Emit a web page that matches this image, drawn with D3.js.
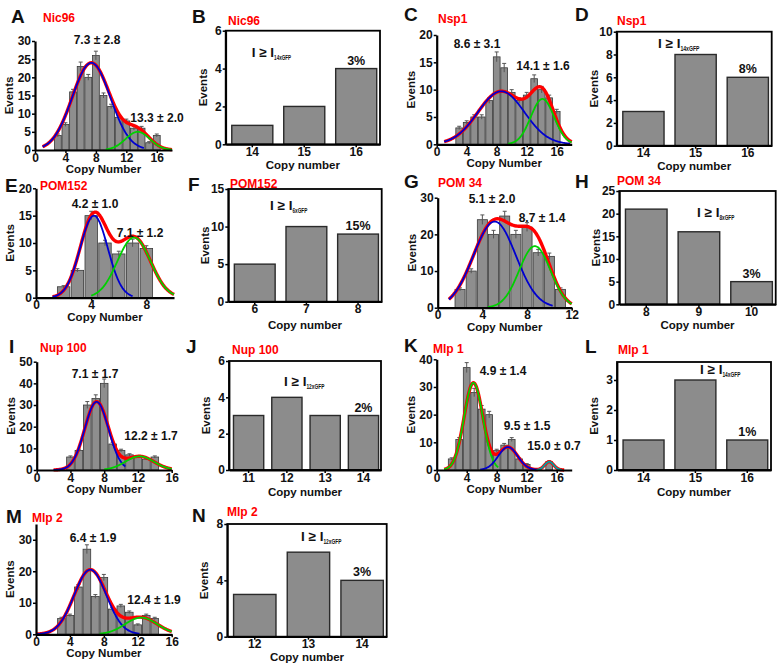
<!DOCTYPE html>
<html><head><meta charset="utf-8">
<script src="https://cdn.jsdelivr.net/npm/d3@7"></script>
<style>
body{margin:0;background:#fff;}
svg text{font-family:"Liberation Sans",Arial,sans-serif;font-weight:bold;fill:#111;}
</style></head><body>
<svg id="c" width="781" height="669"></svg>
<script>
// ---------- DATA ----------
// Histograms (bins = copy number, counts = events)
const binsA=[3,4,5,6,7,8,9,10,11,12,13,14,15,16];
const countsA=[4,7,16,23,20,26,15,12,9,8,6,6,2,4];
const errsA=[0.4,0.5,0.7,1.2,0.8,1.2,0.7,0.6,0.5,0.5,0.5,0.5,0.3,0.4];
const meansA=[7.4,13.5], sdsA=[2.5,1.6], ampsA=[24,5];
const rangesA=[[1,14.3],[9.3,18]], sumRangeA=[1,18];
const labelsA=["7.3 \u00b1 2.8","13.3 \u00b1 2.0"];

const binsC=[3,4,5,6,7,8,9,10,11,12,13,14,15,16];
const countsC=[3,4,5,5,8,16,14,9.5,8,9,12,10,8.5,6];
const errsC=[0.3,0.3,0.4,0.4,0.5,0.9,0.8,0.5,0.5,0.5,0.7,0.6,0.5,0.4];
const meansC=[8.6,14.1], sdsC=[3.1,1.55], ampsC=[9.7,8.3];
const rangesC=[[1,17.8],[9.5,18]], sumRangeC=[1,18];
const labelsC=["8.6 \u00b1 3.1","14.1 \u00b1 1.6"];

const binsE=[2,3,4,5,6,7,8];
const countsE=[2,5,15,10,8,10,9];
const errsE=[0.2,0.3,0.8,0.5,0.5,0.7,0.5];
const meansE=[4.2,7.1], sdsE=[1.0,1.2], ampsE=[15,11];
const rangesE=[[1.2,7],[4,10]], sumRangeE=[1.2,10];
const labelsE=["4.2 \u00b1 1.0","7.1 \u00b1 1.2"];

const binsG=[2,3,4,5,6,7,8,9,10,11];
const countsG=[5,10,24,20,25,20,22,15,14,5];
const errsG=[0.4,0.6,1.3,1.1,1.3,1.1,1.2,0.9,0.9,0.4];
const meansG=[5.1,8.7], sdsG=[1.9,1.4], ampsG=[23.5,16.8];
const rangesG=[[1,10.3],[4.5,12]], sumRangeG=[1,12];
const labelsG=["5.1 \u00b1 2.0","8.7 \u00b1 1.4"];

const binsI=[4,5,6,7,8,9,10,11,12,13,14];
const countsI=[6,9,30,33,40,12,9,7,6,5,6];
const errsI=[0.5,0.6,1.6,1.7,2.0,0.8,0.6,0.5,0.5,0.4,0.5];
const meansI=[7.1,12.2], sdsI=[1.4,1.7], ampsI=[31.5,6.3];
const rangesI=[[2,10.5],[8,16]], sumRangeI=[2,16];
const labelsI=["7.1 \u00b1 1.7","12.2 \u00b1 1.7"];

const binsK=[2,3,4,5,6,7,8,9,10,11,12,15];
const countsK=[4,11,37,28,22,20,7,9,11,4,2,3];
const errsK=[0.4,0.7,1.8,1.5,1.3,1.2,0.5,0.6,0.7,0.4,0.3,0.3];
const meansK=[4.9,9.5,15.0], sdsK=[1.25,1.3,0.6], ampsK=[31.5,8.3,3];
const rangesK=[[1,8.2],[5.8,13.5],[13.3,16.7]], sumRangeK=[1,17];
const labelsK=["4.9 \u00b1 1.4","9.5 \u00b1 1.5","15.0 \u00b1 0.7"];

const binsM=[3,4,5,6,7,8,9,10,11,12,13,14];
const countsM=[5,6,15,27,12,18,8,9,7,3,6,5];
const errsM=[0.4,0.4,0.8,1.4,0.6,1.0,0.5,0.5,0.4,0.3,0.4,0.4];
const meansM=[6.4,12.4], sdsM=[1.9,1.9], ampsM=[20.5,5.3];
const rangesM=[[0,12.2],[7.5,16]], sumRangeM=[0,16];
const labelsM=["6.4 \u00b1 1.9","12.4 \u00b1 1.9"];

// Bar charts (copy number category vs events)
const catsB=["14","15","16"], valsB=[1,2,4];
const catsD=["14","15","16"], valsD=[3,8,6];
const catsF=["6","7","8"], valsF=[5,10,9];
const catsH=["8","9","10"], valsH=[21,16,5];
const catsJ=["11","12","13","14"], valsJ=[3,4,3,3];
const catsL=["14","15","16"], valsL=[1,3,1];
const catsN=["12","13","14"], valsN=[3,6,4];

// tick labels
const ticksA_x=[0,4,8,12,16], ticksA_y=[0,5,10,15,20,25,30];
const ticksC_x=[0,4,8,12,16], ticksC_y=[0,5,10,15,20];
const ticksE_x=[0,4,8], ticksE_y=[0,5,10,15,20];
const ticksG_x=[0,4,8,12], ticksG_y=[0,10,20,30];
const ticksI_x=[0,4,8,12,16], ticksI_y=[0,10,20,30,40,50];
const ticksK_x=[0,4,8,12,16], ticksK_y=[0,10,20,30,40];
const ticksM_x=[0,4,8,12,16], ticksM_y=[0,10,20,30];
const ticksB_y=[0,2,4,6], ticksD_y=[0,2,4,6,8,10], ticksF_y=[0,5,10,15];
const ticksH_y=[0,5,10,15,20,25], ticksJ_y=[0,2,4,6], ticksL_y=[0,1,2,3], ticksN_y=[0,4,8];

// ---------- DRAWING ----------
const svg=d3.select("#c");
const RED="#ff0000", BLUE="#0000d0", GREEN="#00d000", TEAL="#00a0a0";
const fmt=d3.format("d");

function gauss(a,m,s){return x=>a*Math.exp(-((x-m)*(x-m))/(2*s*s));}

function styleAxis(g,w){
  g.select(".domain").attr("stroke","#000").attr("stroke-width",w);
  g.selectAll(".tick line").attr("stroke","#000").attr("stroke-width",1.5);
  g.selectAll(".tick text").style("font-size","12px").style("font-weight","bold").attr("fill","#111");
}

function hist(c){
  const g=svg.append("g");
  const x=d3.scaleLinear().domain(c.xDom).range([c.x0,c.x1]);
  const y=d3.scaleLinear().domain(c.yDom).range([c.y0,c.y1]);
  g.selectAll("rect.b").data(c.bins).enter().append("rect")
    .attr("x",b=>x(b-0.45)).attr("width",b=>x(b+0.45)-x(b-0.45))
    .attr("y",(b,i)=>y(c.counts[i])).attr("height",(b,i)=>y(0)-y(c.counts[i]))
    .attr("fill","#8e8e8e").attr("stroke","#3a3a3a").attr("stroke-width",0.8);
  c.bins.forEach((b,i)=>{
    const top=y(c.counts[i]+c.errs[i]);
    g.append("line").attr("x1",x(b)).attr("x2",x(b)).attr("y1",y(c.counts[i]-c.errs[i])).attr("y2",top).attr("stroke","#555").attr("stroke-width",1);
    g.append("line").attr("x1",x(b)-2).attr("x2",x(b)+2).attr("y1",top).attr("y2",top).attr("stroke","#555").attr("stroke-width",1);
  });
  const fns=c.means.map((m,i)=>gauss(c.amps[i],m,c.sds[i]));
  const line=d3.line().x(d=>x(d[0])).y(d=>y(d[1])).curve(d3.curveBasis);
  const pts=(r,f)=>{const a=d3.range(r[0],r[1],0.05).map(v=>[v,f(v)]);a.push([r[1],f(r[1])]);return a;};
  const sum=v=>d3.sum(fns,f=>f(v));
  g.append("path").attr("d",line(pts(c.sumRange,sum))).attr("fill","none").attr("stroke",RED).attr("stroke-width",3.4);
  fns.forEach((f,i)=>{
    g.append("path").attr("d",line(pts(c.ranges[i],f))).attr("fill","none").attr("stroke",c.colors[i]).attr("stroke-width",1.8);
  });
  const ax=g.append("g").attr("transform",`translate(0,${c.y0})`)
    .call(d3.axisBottom(x).tickValues(c.xTicks).tickFormat(fmt).tickSize(3).tickSizeOuter(0).tickPadding(0));
  styleAxis(ax,2.2);
  const ay=g.append("g").attr("transform",`translate(${c.x0},0)`)
    .call(d3.axisLeft(y).tickValues(c.yTicks).tickFormat(fmt).tickSize(3).tickSizeOuter(0).tickPadding(1));
  styleAxis(ay,2.2);
  g.append("text").attr("x",(c.x0+c.x1)/2).attr("y",c.y0+23).attr("text-anchor","middle").style("font-size","11.5px").text("Copy Number");
  g.append("text").attr("transform",`translate(${c.x0-26},${(c.y0+c.y1)/2}) rotate(-90)`).attr("text-anchor","middle").attr("dy","0.35em").style("font-size","11.5px").text("Events");
  g.append("text").attr("x",c.tx).attr("y",c.ty).style("font-size","12px").style("fill",RED).text(c.title);
  c.labels.forEach((t,i)=>{
    g.append("text").attr("x",c.lp[i][0]).attr("y",c.lp[i][1]).attr("text-anchor","middle").style("font-size","12px").text(t);
  });
  g.append("text").attr("x",c.letter[1]).attr("y",c.letter[2]).style("font-size","19px").text(c.letter[0]);
}

function bars(c){
  const g=svg.append("g");
  const x=d3.scaleBand().domain(c.cats).range([c.x0,c.x1]).paddingInner(0.21).paddingOuter(0.09).align(0.65);
  const y=d3.scaleLinear().domain(c.yDom).range([c.y0,c.y1]);
  g.selectAll("rect.b").data(c.vals).enter().append("rect")
    .attr("x",(v,i)=>x(c.cats[i])).attr("width",x.bandwidth())
    .attr("y",v=>y(v)).attr("height",v=>y(0)-y(v))
    .attr("fill","#8c8c8c").attr("stroke","#2a2a2a").attr("stroke-width",1.4);
  g.append("rect").attr("x",c.x0).attr("y",c.y1).attr("width",c.x1-c.x0).attr("height",c.y0-c.y1)
    .attr("fill","none").attr("stroke","#000").attr("stroke-width",1.8);
  const ax=g.append("g").attr("transform",`translate(0,${c.y0})`)
    .call(d3.axisBottom(x).tickSize(3).tickSizeOuter(0).tickPadding(0));
  styleAxis(ax,1.8);
  const ay=g.append("g").attr("transform",`translate(${c.x0},0)`)
    .call(d3.axisLeft(y).tickValues(c.yTicks).tickFormat(fmt).tickSize(3).tickSizeOuter(0).tickPadding(1));
  styleAxis(ay,1.8);
  g.append("text").attr("x",(c.x0+c.x1)/2).attr("y",c.xlY).attr("text-anchor","middle").style("font-size","11.5px").text("Copy number");
  g.append("text").attr("transform",`translate(${c.x0-23},${(c.y0+c.y1)/2}) rotate(-90)`).attr("text-anchor","middle").attr("dy","0.35em").style("font-size","11.5px").text("Events");
  g.append("text").attr("x",c.tx).attr("y",c.ty).style("font-size","12px").style("fill",RED).text(c.title);
  const last=c.cats.length-1;
  g.append("text").attr("x",x(c.cats[last])+x.bandwidth()/2).attr("y",y(c.vals[last])-4).attr("text-anchor","middle").style("font-size","12.5px").text(c.pct);
  const t=g.append("text").attr("x",c.ix).attr("y",c.iy).style("font-size","13.5px");
  t.append("tspan").text("I \u2265 I");
  t.append("tspan").attr("dy",3).style("font-size","8px").attr("textLength",c.subLen).attr("lengthAdjust","spacingAndGlyphs").text(c.sub);
  g.append("text").attr("x",c.letter[1]).attr("y",c.letter[2]).style("font-size","19px").text(c.letter[0]);
}

hist({bins:binsA,counts:countsA,errs:errsA,means:meansA,sds:sdsA,amps:ampsA,ranges:rangesA,sumRange:sumRangeA,
  labels:labelsA,lp:[[97,44],[157,122]],xDom:[0,18],yDom:[0,30],xTicks:ticksA_x,yTicks:ticksA_y,
  x0:35,x1:172,y0:150,y1:41,colors:[BLUE,GREEN],title:"Nic96",tx:43,ty:22,letter:["A",11,23]});
hist({bins:binsC,counts:countsC,errs:errsC,means:meansC,sds:sdsC,amps:ampsC,ranges:rangesC,sumRange:sumRangeC,
  labels:labelsC,lp:[[477,48],[543,70]],xDom:[0,18],yDom:[0,20],xTicks:ticksC_x,yTicks:ticksC_y,
  x0:436.7,x1:571.7,y0:144.3,y1:35,colors:[BLUE,GREEN],title:"Nsp1",tx:438,ty:23,letter:["C",404,21]});
hist({bins:binsE,counts:countsE,errs:errsE,means:meansE,sds:sdsE,amps:ampsE,ranges:rangesE,sumRange:sumRangeE,
  labels:labelsE,lp:[[95,208],[140,237]],xDom:[0,10],yDom:[0,20],xTicks:ticksE_x,yTicks:ticksE_y,
  x0:36,x1:174,y0:297.7,y1:188.3,colors:[BLUE,GREEN],title:"POM152",tx:40,ty:190,letter:["E",5,192]});
hist({bins:binsG,counts:countsG,errs:errsG,means:meansG,sds:sdsG,amps:ampsG,ranges:rangesG,sumRange:sumRangeG,
  labels:labelsG,lp:[[492,203],[542,222]],xDom:[0,12],yDom:[0,30],xTicks:ticksG_x,yTicks:ticksG_y,
  x0:437.7,x1:571.7,y0:307.7,y1:197.7,colors:[BLUE,GREEN],title:"POM 34",tx:438,ty:187,letter:["G",404,188]});
hist({bins:binsI,counts:countsI,errs:errsI,means:meansI,sds:sdsI,amps:ampsI,ranges:rangesI,sumRange:sumRangeI,
  labels:labelsI,lp:[[95,378],[151,440]],xDom:[0,16],yDom:[0,50],xTicks:ticksI_x,yTicks:ticksI_y,
  x0:36.7,x1:171.7,y0:470,y1:361.7,colors:[BLUE,GREEN],title:"Nup 100",tx:40,ty:352,letter:["I",9,353]});
hist({bins:binsK,counts:countsK,errs:errsK,means:meansK,sds:sdsK,amps:ampsK,ranges:rangesK,sumRange:sumRangeK,
  labels:labelsK,lp:[[503,375],[527,430],[554,450]],xDom:[0,18],yDom:[0,40],xTicks:ticksK_x,yTicks:ticksK_y,
  x0:436.7,x1:571.7,y0:470,y1:359.3,colors:[GREEN,BLUE,TEAL],title:"Mlp 1",tx:433,ty:353,letter:["K",404,352]});
hist({bins:binsM,counts:countsM,errs:errsM,means:meansM,sds:sdsM,amps:ampsM,ranges:rangesM,sumRange:sumRangeM,
  labels:labelsM,lp:[[93,542],[154,604]],xDom:[0,16],yDom:[0,35],xTicks:ticksM_x,yTicks:ticksM_y,
  x0:36,x1:171.7,y0:634.3,y1:524,colors:[BLUE,GREEN],title:"Mlp 2",tx:32,ty:522,letter:["M",6,523]});

bars({cats:catsB,vals:valsB,yDom:[0,6],yTicks:ticksB_y,x0:225.7,x1:380,y0:144.3,y1:30.7,xlY:168.5,
  title:"Nic96",tx:228,ty:25,pct:"3%",ix:251.7,iy:57,sub:"14xGFP",subLen:17,letter:["B",192,23]});
bars({cats:catsD,vals:valsD,yDom:[0,10],yTicks:ticksD_y,x0:616.7,x1:771.7,y0:145.7,y1:31.7,xlY:169.5,
  title:"Nsp1",tx:617,ty:25,pct:"8%",ix:658,iy:48,sub:"14xGFP",subLen:19,letter:["D",575,21]});
bars({cats:catsF,vals:valsF,yDom:[0,15],yTicks:ticksF_y,x0:228.3,x1:381.7,y0:301.7,y1:189,xlY:329,
  title:"POM152",tx:230,ty:188,pct:"15%",ix:270,iy:210,sub:"6xGFP",subLen:15,letter:["F",188,191]});
bars({cats:catsH,vals:valsH,yDom:[0,25],yTicks:ticksH_y,x0:619.3,x1:775.7,y0:304.3,y1:191,xlY:329,
  title:"POM 34",tx:617,ty:185,pct:"3%",ix:697,iy:217,sub:"8xGFP",subLen:15,letter:["H",575,188]});
bars({cats:catsJ,vals:valsJ,yDom:[0,6],yTicks:ticksJ_y,x0:229,x1:381,y0:470,y1:361,xlY:496,
  title:"Nup 100",tx:232,ty:354,pct:"2%",ix:284,iy:386,sub:"12xGFP",subLen:18,letter:["J",186,353]});
bars({cats:catsL,vals:valsL,yDom:[0,3.6],yTicks:ticksL_y,x0:617,x1:771,y0:470,y1:362,xlY:496,
  title:"Mlp 1",tx:618,ty:354,pct:"1%",ix:700,iy:374,sub:"14xGFP",subLen:18,letter:["L",585,353]});
bars({cats:catsN,vals:valsN,yDom:[0,8],yTicks:ticksN_y,x0:227.3,x1:386.7,y0:636.7,y1:524,xlY:661,
  title:"Mlp 2",tx:227,ty:516,pct:"3%",ix:301,iy:541,sub:"12xGFP",subLen:18,letter:["N",192,522]});
</script></body></html>
